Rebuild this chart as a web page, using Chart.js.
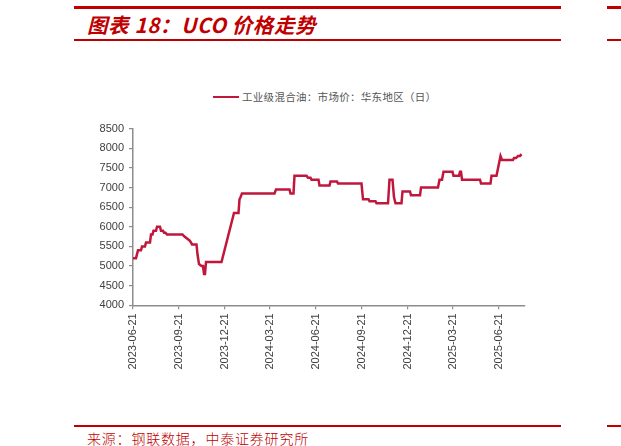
<!DOCTYPE html>
<html>
<head>
<meta charset="utf-8">
<script src="https://cdn.jsdelivr.net/npm/chart.js@4"></script>
<style>
  html, body { margin: 0; padding: 0; background: #fff; }
  body { width: 621px; height: 446px; position: relative; overflow: hidden; }
  .bar { position: absolute; background: #c00000; }
  #title {
    position: absolute; left: 87px; top: 10px;
    font-family: "Noto Sans CJK SC", sans-serif; font-weight: 700; font-style: italic;
    font-size: 20.5px; color: #c00000; white-space: nowrap; line-height: 28px; letter-spacing: 0.6px;
  }
  #legend {
    position: absolute; left: 213px; top: 89px; height: 16px;
    font-family: "Noto Sans CJK SC", sans-serif; font-size: 10.5px; color: #555;
    white-space: nowrap; line-height: 16px; letter-spacing: 0.3px;
  }
  #legend i { display: inline-block; width: 26px; height: 2.5px; background: #c0173d; vertical-align: middle; margin-right: 3px; margin-top: -2px; }
  #source {
    position: absolute; left: 87px; top: 428px;
    font-family: "Noto Sans CJK SC", sans-serif; font-weight: 300; font-size: 14px;
    color: #c00000; white-space: nowrap; line-height: 20px; letter-spacing: 0.8px;
  }
  #wrap { position: absolute; left: 0; top: 110px; width: 540px; height: 270px; }
</style>
</head>
<body>
<div class="bar" style="left:74px;top:6px;width:487px;height:3px"></div>
<div class="bar" style="left:607px;top:6px;width:14px;height:3px"></div>
<div id="title">图表 18：UCO 价格走势</div>
<div class="bar" style="left:74px;top:39px;width:487px;height:1.5px"></div>
<div class="bar" style="left:607px;top:39px;width:14px;height:1.5px"></div>
<div id="legend"><i></i>工业级混合油：市场价：华东地区（日）</div>
<div id="wrap"><canvas id="chart"></canvas></div>
<div class="bar" style="left:74px;top:425px;width:487px;height:1.5px"></div>
<div class="bar" style="left:607px;top:425px;width:14px;height:1.5px"></div>
<div id="source">来源：钢联数据，中泰证券研究所</div>

<script>
// days counted from 2023-06-21
const days = [0, 6, 10, 16, 18, 24, 26, 34, 36, 39, 41, 46, 48, 54, 56, 60, 62, 65, 68,
  99, 103, 108, 113, 116, 118, 127, 129, 132, 137, 140, 142, 144, 146, 177,
  202, 211, 213, 215, 218, 283, 286, 313, 315, 321, 323, 347, 350, 355, 357, 371, 373,
  393, 395, 408, 410, 457, 460, 471, 473, 485, 487, 510, 513, 519, 522, 525, 537,
  539, 554, 556, 574, 576, 610, 613, 618, 621, 639, 641, 652, 654, 656, 658,
  694, 696, 715, 717, 727, 735, 738, 760, 762, 766, 770, 774, 777];
const prices = [5200, 5200, 5400, 5400, 5500, 5500, 5600, 5600, 5800, 5800, 5900, 5900, 6000, 6000, 5900, 5900, 5850, 5850, 5800,
  5800, 5750, 5700, 5650, 5600, 5550, 5550, 5300, 5050, 5000, 5000, 4800, 4800, 5100, 5100,
  6350, 6350, 6700, 6750, 6850, 6850, 6950, 6950, 6850, 6850, 7300, 7300, 7250, 7250, 7200, 7200, 7050,
  7050, 7150, 7150, 7100, 7100, 6700, 6700, 6650, 6650, 6600, 6600, 7200, 7200, 6750, 6600, 6600,
  6900, 6900, 6800, 6800, 7000, 7000, 7200, 7200, 7400, 7400, 7300, 7300, 7400, 7400, 7200,
  7200, 7100, 7100, 7300, 7300, 7800, 7700, 7700, 7750, 7750, 7800, 7800, 7850];

const tickDays = [0, 92, 183, 274, 366, 458, 549, 639, 731];
const tickLabels = ["2023-06-21", "2023-09-21", "2023-12-21", "2024-03-21", "2024-06-21",
  "2024-09-21", "2024-12-21", "2025-03-21", "2025-06-21"];

const seriesName = "工业级混合油：市场价：华东地区（日）";

const axisGray = "#8c8c8c";
const tickFont = { family: "'Liberation Sans', Arial, sans-serif", size: 11 };

new Chart(document.getElementById("chart"), {
  type: "line",
  data: {
    datasets: [{
      label: seriesName,
      data: days.map((d, i) => ({ x: d, y: prices[i] })),
      borderColor: "#c0173d",
      borderWidth: 2.5,
      pointRadius: 0,
      tension: 0,
      fill: false
    }]
  },
  options: {
    responsive: true,
    maintainAspectRatio: false,
    animation: false,
    layout: { padding: { top: 18.6, right: 15, left: 0, bottom: 0 } },
    plugins: { legend: { display: false }, tooltip: { enabled: false } },
    scales: {
      x: {
        type: "linear",
        min: 0,
        max: 784,
        afterBuildTicks: axis => { axis.ticks = tickDays.map(v => ({ value: v })); },
        afterFit: s => { s.height = 74.7; },
        grid: { drawOnChartArea: false, drawTicks: true, tickLength: 4, color: axisGray, lineWidth: 1.2 },
        border: { color: axisGray, width: 1.5 },
        ticks: {
          autoSkip: false,
          minRotation: 90,
          maxRotation: 90,
          padding: 4,
          color: "#404040",
          font: tickFont,
          callback: v => tickLabels[tickDays.indexOf(v)] || ""
        }
      },
      y: {
        min: 4000,
        max: 8500,
        afterFit: s => { s.width = 133; },
        grid: { drawOnChartArea: false, drawTicks: true, tickLength: 4, color: axisGray, lineWidth: 1.2 },
        border: { color: axisGray, width: 1.5 },
        ticks: { stepSize: 500, padding: 5, color: "#404040", font: tickFont, callback: v => String(v) }
      }
    }
  }
});
</script>
</body>
</html>
